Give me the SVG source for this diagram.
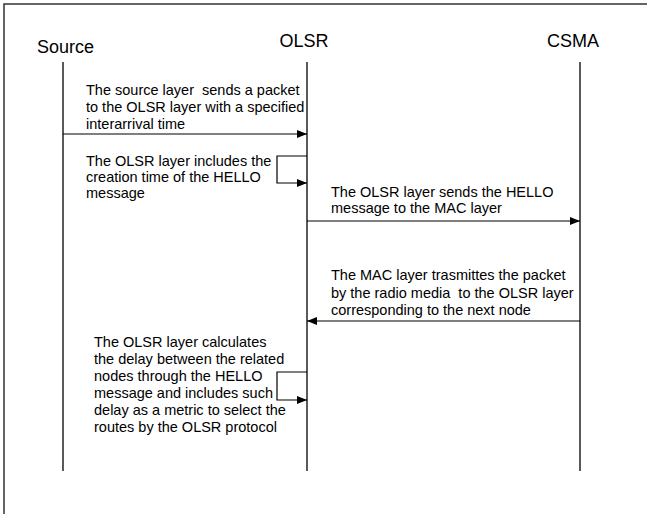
<svg xmlns="http://www.w3.org/2000/svg" width="647" height="514" viewBox="0 0 647 514">
<style>
.hdr{font-family:"Liberation Sans",Arial,sans-serif;font-size:18px;fill:#000}
.txt{font-family:"Liberation Sans",Arial,sans-serif;font-size:14.5px;fill:#000;white-space:pre}
.life{stroke:#000;stroke-width:1.3;fill:none}
.msg{stroke:#000;stroke-width:1.2;fill:none;marker-end:url(#ah)}
</style>
<defs>
<marker id="ah" viewBox="0 0 10 8" refX="10" refY="4" markerWidth="10" markerHeight="8" markerUnits="userSpaceOnUse" orient="auto">
<path d="M0,0 L10,4 L0,8 Z" fill="#000"/>
</marker>
</defs>
<rect width="647" height="514" fill="#fff"/>
<path d="M4,514 V4 H647" stroke="#333" stroke-width="1.5" fill="none"/>
<g id="source">
<text class="hdr" x="37" y="53">Source</text>
<line class="life" x1="63" y1="62" x2="63" y2="471"/>
</g>
<g id="olsr">
<text class="hdr" x="304" y="47" text-anchor="middle">OLSR</text>
<line class="life" x1="307" y1="62" x2="307" y2="471"/>
</g>
<g id="csma">
<text class="hdr" x="573" y="47" text-anchor="middle">CSMA</text>
<line class="life" x1="580" y1="62" x2="580" y2="471"/>
</g>
<g id="connectors">
<line class="msg" x1="63" y1="134" x2="307" y2="134"/>
<path class="msg" d="M307,156 H277 V183 H307"/>
<line class="msg" x1="307" y1="221" x2="580" y2="221"/>
<line class="msg" x1="580" y1="321" x2="307" y2="321"/>
<path class="msg" d="M307,372 H277 V400 H307"/>
</g>
<g id="labels" xml:space="preserve">
<text class="txt" x="86" y="94.5">The source layer  sends a packet</text>
<text class="txt" x="86" y="111.5">to the OLSR layer with a specified</text>
<text class="txt" x="86" y="128.5">interarrival time</text>
<text class="txt" x="86" y="166">The OLSR layer includes the</text>
<text class="txt" x="86" y="182">creation time of the HELLO</text>
<text class="txt" x="86" y="198">message</text>
<text class="txt" x="331" y="197">The OLSR layer sends the HELLO</text>
<text class="txt" x="331" y="213">message to the MAC layer</text>
<text class="txt" x="331" y="280">The MAC layer trasmittes the packet</text>
<text class="txt" x="331" y="297.5">by the radio media  to the OLSR layer</text>
<text class="txt" x="331" y="315">corresponding to the next node</text>
<text class="txt" x="94" y="347">The OLSR layer calculates</text>
<text class="txt" x="94" y="364">the delay between the related</text>
<text class="txt" x="94" y="381">nodes through the HELLO</text>
<text class="txt" x="94" y="398">message and includes such</text>
<text class="txt" x="94" y="415">delay as a metric to select the</text>
<text class="txt" x="94" y="432">routes by the OLSR protocol</text>
</g>
</svg>
